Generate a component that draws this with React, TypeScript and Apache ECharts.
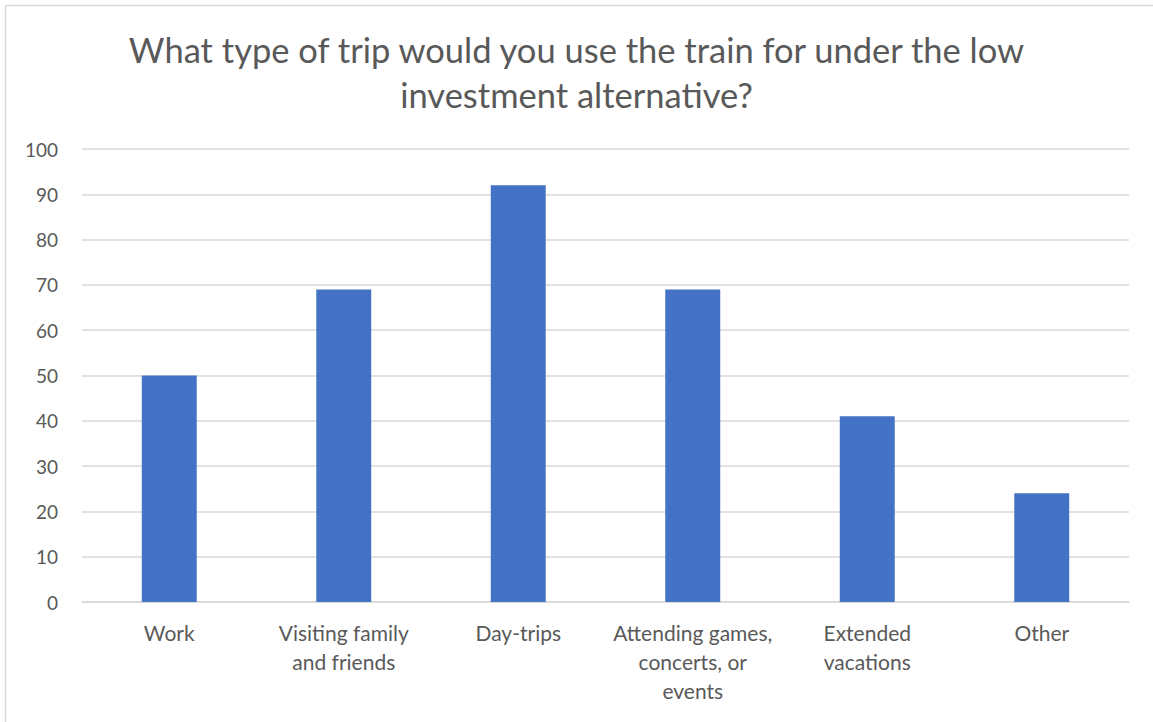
import React, { useEffect, useRef } from "react";
import * as echarts from "echarts";

const titleText = "What type of trip would you use the train for under the low\ninvestment alternative?";
const categories = [
  "Work",
  "Visiting family\nand friends",
  "Day-trips",
  "Attending games,\nconcerts, or\nevents",
  "Extended\nvacations",
  "Other",
];
const values = [50, 69, 92, 69, 41, 24];
const yMin = 0;
const yMax = 100;
const yInterval = 10;

const FONT = "Lato, 'Open Sans', sans-serif";

export default function App() {
  const ref = useRef<HTMLDivElement>(null);
  useEffect(() => {
    document.body.style.margin = "0";
    if (!ref.current) return;
    const chart = echarts.init(ref.current, null, { renderer: "svg" });
    chart.setOption({
      animation: false,
      backgroundColor: "#ffffff",
      title: {
        text: titleText,
        left: "center",
        top: 22,
        textStyle: {
          fontFamily: FONT,
          fontSize: 34.5,
          fontWeight: "normal",
          color: "#595959",
          lineHeight: 45,
        },
      },
      grid: { left: 82, right: 24, top: 149, bottom: 120, containLabel: false },
      xAxis: {
        type: "category",
        data: categories,
        axisLine: { show: true, lineStyle: { color: "#d9d9d9", width: 1.5 } },
        axisTick: { show: false },
        axisLabel: {
          interval: 0,
          margin: 16,
          fontFamily: FONT,
          fontSize: 21,
          color: "#595959",
          lineHeight: 29,
        },
      },
      yAxis: {
        type: "value",
        min: yMin,
        max: yMax,
        interval: yInterval,
        axisLine: { show: false },
        axisTick: { show: false },
        splitLine: { lineStyle: { color: "#d9d9d9", width: 1.5 } },
        axisLabel: {
          margin: 24,
          fontFamily: FONT,
          fontSize: 19,
          color: "#595959",
        },
      },
      series: [
        {
          type: "bar",
          data: values,
          barWidth: "31.5%",
          itemStyle: { color: "#4472c4" },
        },
      ],
      graphic: [
        {
          type: "line",
          shape: { x1: 5.5, y1: 5.5, x2: 1153, y2: 5.5 },
          style: { stroke: "#d9d9d9", lineWidth: 1.5 },
          silent: true,
        },
        {
          type: "line",
          shape: { x1: 5.5, y1: 5.5, x2: 5.5, y2: 722 },
          style: { stroke: "#d9d9d9", lineWidth: 1.5 },
          silent: true,
        },
      ],
    });
    return () => chart.dispose();
  }, []);
  return <div ref={ref} style={{ width: 1153, height: 722 }} />;
}
